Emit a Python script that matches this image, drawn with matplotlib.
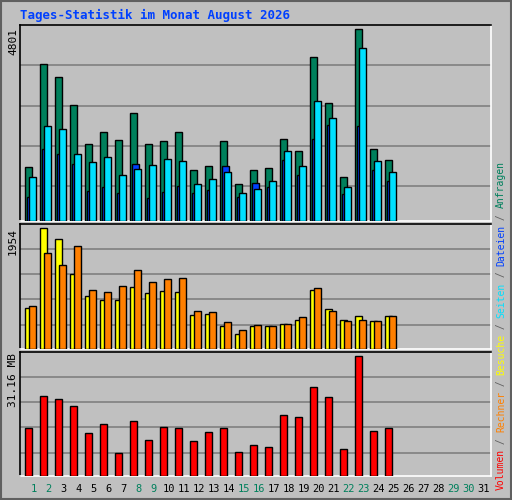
import matplotlib
matplotlib.use("Agg")
import matplotlib.pyplot as plt
from matplotlib.patches import Rectangle

days = list(range(1, 26))
hits = [1357,3920,3619,2915,1935,2237,2036,2714,1935,2010,2237,1282,1382,2010,930,1282,1332,2061,1759,4096,2965,1106,4801,1809,1533]
files = [603,1809,1684,1432,754,854,704,1432,578,729,880,704,779,1382,603,955,854,1533,1156,2061,2413,679,2387,1282,1005]
pages = [1106,2387,2312,1684,1483,1608,1156,1307,1407,1558,1508,930,1056,1231,704,804,1005,1759,1382,3016,2588,854,4323,1508,1231]
visits = [655,1954,1775,1207,850,785,785,996,899,931,915,541,558,379,249,379,379,411,476,947,639,476,525,460,525]
sites = [687,1548,1353,1662,947,915,1012,1272,1077,1126,1142,606,590,428,314,395,379,411,509,980,606,460,476,460,525]
volume = [12.35,20.71,19.92,18.10,11.05,13.40,6.09,14.18,9.22,12.62,12.35,8.96,11.31,12.35,6.35,7.92,7.40,15.75,15.23,23.06,20.45,7.13,31.16,11.57,12.35]
weekend = [1,2,8,9,15,16,22,23,29,30]
title = "Tages-Statistik im Monat August 2026"

BG = "#c0c0c0"
W, H = 512, 500
fig = plt.figure(figsize=(W/100, H/100), dpi=100, facecolor=BG)
mono = "DejaVu Sans Mono"

def ax_at(x0, y0, x1, y1):
    ax = fig.add_axes([x0/W, 1-y1/H, (x1-x0)/W, (y1-y0)/H])
    ax.set_facecolor(BG)
    for s in ["top", "left"]:
        ax.spines[s].set_color("black")
    for s in ["bottom", "right"]:
        ax.spines[s].set_color("white")
    for s in ax.spines.values():
        s.set_linewidth(1.2)
    ax.set_xticks([]); ax.set_yticks([])
    ax.set_xlim(0.147, 31.547)
    return ax

fig.patches.append(Rectangle((0.002, 0.002), 0.996, 0.996, transform=fig.transFigure,
                             fill=False, edgecolor="#606060", lw=1.5))

fig.text(20/W, 1-15/H, title, color="#0040ff", fontsize=9, fontweight="bold",
         family=mono, va="center", ha="left")

bw = 0.46
def bars(ax, vals, off, color):
    ax.bar([d-0.5+off for d in days], vals, width=bw, align="edge",
           color=color, edgecolor="black", linewidth=1.0, zorder=3)

def grid(ax, fracs):
    top = ax.get_ylim()[1]
    for f in fracs:
        ax.axhline(f*top, color="#808080", lw=1.2, zorder=1)

ax1 = ax_at(20, 25, 491, 221)
ax1.set_ylim(0, 4801/0.978)
grid(ax1, [35/195.3, 75/195.3, 115/195.3, 155/195.3])
bars(ax1, hits, 0, "#00805c")
bars(ax1, files, 0.133, "#0040ff")
bars(ax1, pages, 0.267, "#00e0ff")

ax2 = ax_at(20, 224, 491, 349)
ax2.set_ylim(0, 1954/0.968)
grid(ax2, [73/373, 148/373, 223/373, 298/373])
bars(ax2, visits, 0, "#ffff00")
bars(ax2, sites, 0.267, "#ff8000")

ax3 = ax_at(20, 352, 491, 476)
ax3.set_ylim(0, 31.16/0.968)
grid(ax3, [70/370, 145/370, 220/370, 295/370])
bars(ax3, volume, 0, "#ff0000")

for txt, ytop in [("4801", 28), ("1954", 228), ("31.16 MB", 353)]:
    fig.text(13/W, 1-ytop/H, txt, rotation=90, fontsize=8, family=mono,
             va="top", ha="center", color="black")

for d in range(1, 32):
    col = "#00805c" if d in weekend else "black"
    x = 20 + (d - 0.5 + 0.55 - 0.147) * 15
    fig.text(x/W, 1-489/H, str(d), fontsize=7.5, family=mono, ha="center", va="center", color=col)

parts = [("Volumen", "#ff0000"), (" / ", "#606060"), ("Rechner", "#ff8000"), (" / ", "#606060"),
         ("Besuche", "#ffff00"), (" / ", "#606060"), ("Seiten", "#00e0ff"), (" / ", "#606060"),
         ("Dateien", "#0040ff"), (" / ", "#606060"), ("Anfragen", "#00805c")]
y = 490.0
step = 5.75
for t, c in parts:
    fig.text(501/W, 1-y/H, t, rotation=90, fontsize=7, family=mono, color=c,
             ha="center", va="bottom")
    y -= step*len(t)

fig.savefig("out.png", dpi=100, facecolor=BG)
